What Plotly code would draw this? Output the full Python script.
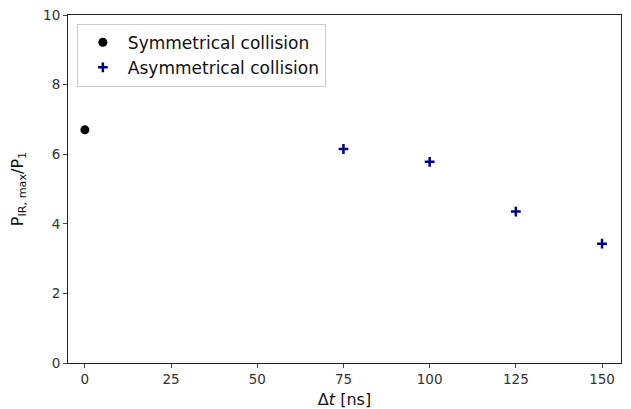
import plotly.graph_objects as go

sym_x = [0]
sym_y = [6.7]
asym_x = [75, 100, 125, 150]
asym_y = [6.15, 5.78, 4.35, 3.43]
xticks = [0, 25, 50, 75, 100, 125, 150]
yticks = [0, 2, 4, 6, 8, 10]

fig = go.Figure()
fig.add_trace(go.Scatter(x=sym_x, y=sym_y, mode="markers", name="Symmetrical collision",
                         marker=dict(symbol="circle", size=9, color="black")))
fig.add_trace(go.Scatter(x=asym_x, y=asym_y, mode="markers", name="Asymmetrical collision",
                         marker=dict(symbol="cross-thin", size=7, color="#000080",
                                     line=dict(width=2.5, color="#000080"))))

font = "DejaVu Sans"
fig.update_layout(
    width=623, height=401,
    margin=dict(l=60, r=10, t=7, b=46),
    plot_bgcolor="white", paper_bgcolor="white",
    font=dict(family=font, size=13, color="#222"),
    showlegend=True,
    legend=dict(x=0.016, y=0.975, xanchor="left", yanchor="top",
                bordercolor="#cccccc", borderwidth=1, bgcolor="rgba(255,255,255,0.8)",
                font=dict(family=font, size=17, color="#111"),
                itemwidth=40, tracegroupgap=0),
    xaxis=dict(range=[-4.9, 155.5], tickvals=xticks, ticks="outside", ticklen=4,
               showgrid=False, zeroline=False, showline=True, linecolor="#222",
               linewidth=1, mirror=True, automargin=False, ticklabeloverflow="allow",
               tickfont=dict(size=13.5, color="#333"),
               title=dict(text="Δ<i>t</i> [ns]", font=dict(family=font, size=16, color="#111"), standoff=8)),
    yaxis=dict(range=[0, 10], tickvals=yticks, ticks="outside", ticklen=4,
               showgrid=False, zeroline=False, showline=True, linecolor="#222",
               linewidth=1, mirror=True, automargin=False, ticklabeloverflow="allow",
               tickfont=dict(size=13.5, color="#333"),
               title=dict(text="P<sub>IR, max</sub>/P<sub>1</sub>", font=dict(family=font, size=16, color="#111"), standoff=18)),
)
fig.write_html("out.html")
